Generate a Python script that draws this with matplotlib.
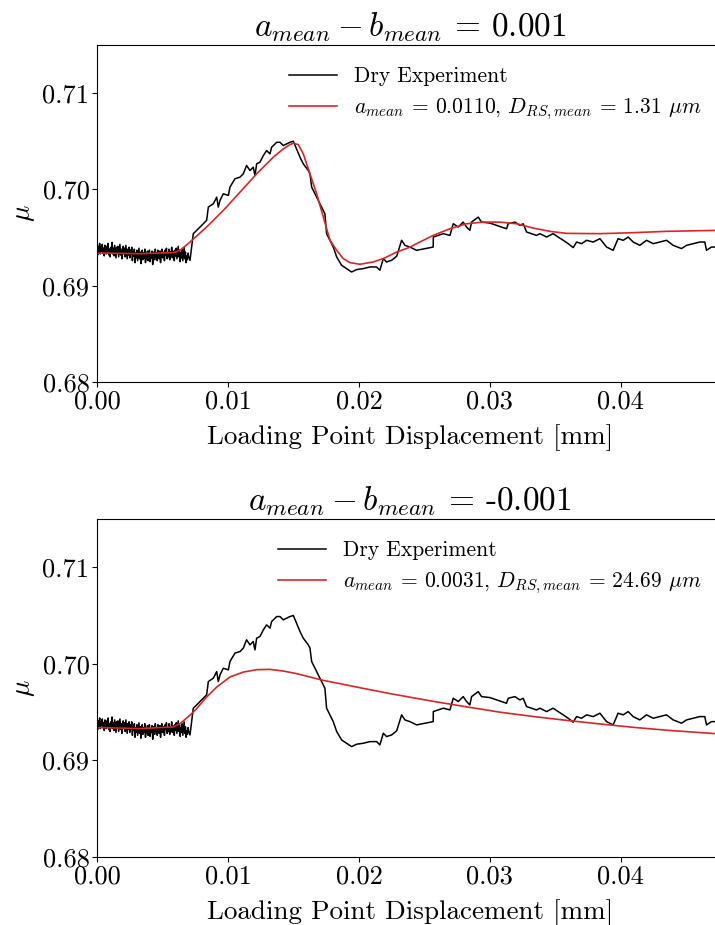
import matplotlib
matplotlib.use("Agg")
import matplotlib.pyplot as plt

plt.rcParams['font.family'] = 'serif'
plt.rcParams['font.serif'] = ['cmr10']
plt.rcParams['mathtext.fontset'] = 'cm'
plt.rcParams['axes.formatter.use_mathtext'] = True

# dry experiment, stick phase (dense, noisy)
stick_x = [0.00000, 0.00005, 0.00010, 0.00015, 0.00020, 0.00025, 0.00030, 0.00035, 0.00040, 0.00045,
           0.00050, 0.00055, 0.00060, 0.00065, 0.00070, 0.00075, 0.00080, 0.00085, 0.00090, 0.00095,
           0.00100, 0.00105, 0.00110, 0.00115, 0.00120, 0.00125, 0.00130, 0.00135, 0.00140, 0.00145,
           0.00150, 0.00155, 0.00160, 0.00165, 0.00170, 0.00175, 0.00180, 0.00185, 0.00190, 0.00195,
           0.00200, 0.00205, 0.00210, 0.00215, 0.00220, 0.00225, 0.00230, 0.00235, 0.00240, 0.00245,
           0.00250, 0.00255, 0.00260, 0.00265, 0.00270, 0.00275, 0.00280, 0.00285, 0.00290, 0.00295,
           0.00300, 0.00305, 0.00310, 0.00315, 0.00320, 0.00325, 0.00330, 0.00335, 0.00340, 0.00345,
           0.00350, 0.00355, 0.00360, 0.00365, 0.00370, 0.00375, 0.00380, 0.00385, 0.00390, 0.00395,
           0.00400, 0.00405, 0.00410, 0.00415, 0.00420, 0.00425, 0.00430, 0.00435, 0.00440, 0.00445,
           0.00450, 0.00455, 0.00460, 0.00465, 0.00470, 0.00475, 0.00480, 0.00485, 0.00490, 0.00495,
           0.00500, 0.00505, 0.00510, 0.00515, 0.00520, 0.00525, 0.00530, 0.00535, 0.00540, 0.00545,
           0.00550, 0.00555, 0.00560, 0.00565, 0.00570, 0.00575, 0.00580, 0.00585, 0.00590, 0.00595,
           0.00600, 0.00605, 0.00610, 0.00615, 0.00620, 0.00625, 0.00630, 0.00635, 0.00640, 0.00645,
           0.00650, 0.00655, 0.00660, 0.00665, 0.00670, 0.00675, 0.00680, 0.00685, 0.00690, 0.00695,
           0.00700]
stick_mu = [0.6938, 0.6932, 0.6941, 0.6935, 0.6944, 0.6933, 0.6940, 0.6936, 0.6943, 0.6934,
            0.6939, 0.6931, 0.6942, 0.6937, 0.6933, 0.6941, 0.6935, 0.6944, 0.6932, 0.6938,
            0.6930, 0.6940, 0.6934, 0.6945, 0.6933, 0.6939, 0.6931, 0.6942, 0.6936, 0.6929,
            0.6940, 0.6934, 0.6941, 0.6930, 0.6937, 0.6943, 0.6932, 0.6938, 0.6928, 0.6936,
            0.6941, 0.6933, 0.6939, 0.6930, 0.6942, 0.6935, 0.6928, 0.6938, 0.6932, 0.6940,
            0.6929, 0.6937, 0.6933, 0.6940, 0.6926, 0.6935, 0.6931, 0.6938, 0.6924, 0.6934,
            0.6929, 0.6937, 0.6926, 0.6933, 0.6939, 0.6928, 0.6935, 0.6923, 0.6932, 0.6937,
            0.6927, 0.6934, 0.6929, 0.6938, 0.6924, 0.6933, 0.6928, 0.6936, 0.6926, 0.6931,
            0.6937, 0.6925, 0.6933, 0.6929, 0.6936, 0.6922, 0.6931, 0.6935, 0.6927, 0.6938,
            0.6930, 0.6934, 0.6926, 0.6937, 0.6931, 0.6928, 0.6936, 0.6924, 0.6933, 0.6938,
            0.6929, 0.6935, 0.6931, 0.6926, 0.6937, 0.6932, 0.6939, 0.6928, 0.6934, 0.6930,
            0.6938, 0.6927, 0.6935, 0.6931, 0.6940, 0.6929, 0.6936, 0.6933, 0.6926, 0.6937,
            0.6931, 0.6939, 0.6928, 0.6935, 0.6941, 0.6930, 0.6937, 0.6925, 0.6934, 0.6929,
            0.6938, 0.6926, 0.6933, 0.6940, 0.6928, 0.6935, 0.6924, 0.6931, 0.6927, 0.6934,
            0.6930]

# dry experiment, slip event and afterwards
slip_x = [0.00710, 0.00735, 0.00761, 0.00837, 0.00850, 0.00888, 0.00914, 0.00926, 0.00939,
          0.00964, 0.01003, 0.01015, 0.01053, 0.01092, 0.01117, 0.01142, 0.01168, 0.01193,
          0.01206, 0.01219, 0.01244, 0.01270, 0.01295, 0.01321, 0.01333, 0.01372, 0.01397,
          0.01422, 0.01448, 0.01473, 0.01499, 0.01524, 0.01550, 0.01575, 0.01613, 0.01626,
          0.01639, 0.01664, 0.01702, 0.01740, 0.01753, 0.01766, 0.01804, 0.01830, 0.01868,
          0.01906, 0.01944, 0.01982, 0.02033, 0.02084, 0.02135, 0.02160, 0.02186, 0.02211,
          0.02249, 0.02288, 0.02326, 0.02351, 0.02389, 0.02440, 0.02567, 0.02568, 0.02644,
          0.02695, 0.02720, 0.02758, 0.02796, 0.02822, 0.02847, 0.02860, 0.02911, 0.02936,
          0.03000, 0.03051, 0.03127, 0.03140, 0.03191, 0.03229, 0.03254, 0.03280, 0.03356,
          0.03382, 0.03433, 0.03483, 0.03521, 0.03560, 0.03598, 0.03636, 0.03662, 0.03700,
          0.03738, 0.03789, 0.03840, 0.03891, 0.03941, 0.03979, 0.04018, 0.04056, 0.04094,
          0.04145, 0.04196, 0.04247, 0.04298, 0.04349, 0.04399, 0.04463, 0.04502, 0.04552,
          0.04603, 0.04641, 0.04654, 0.04692, 0.04718]
slip_mu = [0.69264, 0.69541, 0.69575, 0.69679, 0.69817, 0.69852, 0.69920, 0.69817, 0.69886,
           0.69955, 0.69938, 0.70024, 0.70111, 0.70128, 0.70163, 0.70249, 0.70197, 0.70231,
           0.70145, 0.70266, 0.70283, 0.70352, 0.70404, 0.70370, 0.70438, 0.70490, 0.70490,
           0.70456, 0.70473, 0.70490, 0.70501, 0.70421, 0.70335, 0.70266, 0.70197, 0.70163,
           0.70024, 0.69955, 0.69852, 0.69748, 0.69541, 0.69506, 0.69402, 0.69299, 0.69212,
           0.69178, 0.69143, 0.69168, 0.69178, 0.69195, 0.69195, 0.69161, 0.69282, 0.69247,
           0.69264, 0.69306, 0.69472, 0.69420, 0.69402, 0.69368, 0.69402, 0.69506, 0.69541,
           0.69523, 0.69644, 0.69610, 0.69661, 0.69610, 0.69575, 0.69661, 0.69713, 0.69661,
           0.69651, 0.69627, 0.69592, 0.69644, 0.69661, 0.69627, 0.69644, 0.69558, 0.69523,
           0.69541, 0.69506, 0.69541, 0.69506, 0.69472, 0.69437, 0.69396, 0.69454, 0.69437,
           0.69472, 0.69454, 0.69489, 0.69402, 0.69368, 0.69489, 0.69472, 0.69506, 0.69454,
           0.69420, 0.69472, 0.69437, 0.69454, 0.69472, 0.69420, 0.69386, 0.69420, 0.69437,
           0.69454, 0.69454, 0.69368, 0.69402, 0.69402]

exp_x = stick_x + slip_x
exp_mu = stick_mu + slip_mu

# rate-and-state model, a - b = 0.001
fit1_x = [0.0, 0.00328, 0.00583, 0.00634, 0.00710, 0.00837, 0.00964, 0.01092, 0.01219,
          0.01346, 0.01422, 0.01473, 0.01499, 0.01537, 0.01575, 0.01626, 0.01677, 0.01728,
          0.01779, 0.01830, 0.01880, 0.01931, 0.02008, 0.02109, 0.02186, 0.02288, 0.02389,
          0.02440, 0.02567, 0.02695, 0.02822, 0.02949, 0.03076, 0.03204, 0.03331, 0.03458,
          0.03585, 0.03840, 0.04094, 0.04349, 0.04603, 0.04780]
fit1_mu = [0.69340, 0.69333, 0.69344, 0.69368, 0.69454, 0.69610, 0.69782, 0.69972, 0.70163,
           0.70335, 0.70421, 0.70466, 0.70480, 0.70466, 0.70370, 0.70163, 0.69955, 0.69713,
           0.69472, 0.69368, 0.69282, 0.69240, 0.69223, 0.69247, 0.69282, 0.69350, 0.69400,
           0.69437, 0.69523, 0.69592, 0.69644, 0.69661, 0.69661, 0.69644, 0.69599, 0.69565,
           0.69544, 0.69541, 0.69551, 0.69565, 0.69572, 0.69576]

# rate-and-state model, a - b = -0.001
fit2_x = [0.0, 0.00328, 0.00583, 0.00634, 0.00710, 0.00761, 0.00837, 0.00914, 0.01015,
          0.01117, 0.01219, 0.01321, 0.01422, 0.01524, 0.01626, 0.01728, 0.01855, 0.01982,
          0.02109, 0.02237, 0.02389, 0.02567, 0.02822, 0.03076, 0.03331, 0.03585,
          0.03840, 0.04094, 0.04349, 0.04718, 0.04780]
fit2_mu = [0.69341, 0.69330, 0.69347, 0.69382, 0.69468, 0.69537, 0.69657, 0.69760, 0.69864,
           0.69915, 0.69940, 0.69943, 0.69926, 0.69899, 0.69864, 0.69829, 0.69795, 0.69760,
           0.69726, 0.69692, 0.69655, 0.69612, 0.69555, 0.69500, 0.69455, 0.69415,
           0.69378, 0.69343, 0.69313, 0.69278, 0.69272]

titles = [r'$a_{mean} - b_{mean}$ = 0.001', r'$a_{mean} - b_{mean}$ = -0.001']
fit_labels = [r'$a_{mean}$ = 0.0110, $D_{RS,mean}$ = 1.31 $\mu m$',
              r'$a_{mean}$ = 0.0031, $D_{RS,mean}$ = 24.69 $\mu m$']
fits = [(fit1_x, fit1_mu), (fit2_x, fit2_mu)]

fig = plt.figure(figsize=(7.15, 9.25), dpi=100)
ax_top = fig.add_axes([0.1357, 0.587, 0.8755, 0.3643])
ax_bot = fig.add_axes([0.1357, 0.0735, 0.8755, 0.3654])

for ax, title, lab, (fx, fmu) in zip([ax_top, ax_bot], titles, fit_labels, fits):
    ax.plot(exp_x, exp_mu, color='black', lw=1.1, label='Dry Experiment')
    ax.plot(fx, fmu, color='tab:red', lw=1.2, label=lab)
    ax.set_xlim(0, 0.0478)
    ax.set_ylim(0.68, 0.715)
    ax.set_xticks([0.0, 0.01, 0.02, 0.03, 0.04])
    ax.set_xticklabels(['0.00', '0.01', '0.02', '0.03', '0.04'])
    ax.set_yticks([0.68, 0.69, 0.70, 0.71])
    ax.set_yticklabels(['0.68', '0.69', '0.70', '0.71'])
    ax.tick_params(labelsize=19, pad=2)
    ax.set_xlabel('Loading Point Displacement [mm]', fontsize=19.5, labelpad=8)
    ax.set_ylabel(r'$\mu$', fontsize=19.5)
    ax.set_title(title, fontsize=24, pad=6)
    ax.legend(loc='upper right', frameon=False, fontsize=15.5, handlelength=2.2,
              borderaxespad=0.6)

fig.savefig('out.png', dpi=100)
